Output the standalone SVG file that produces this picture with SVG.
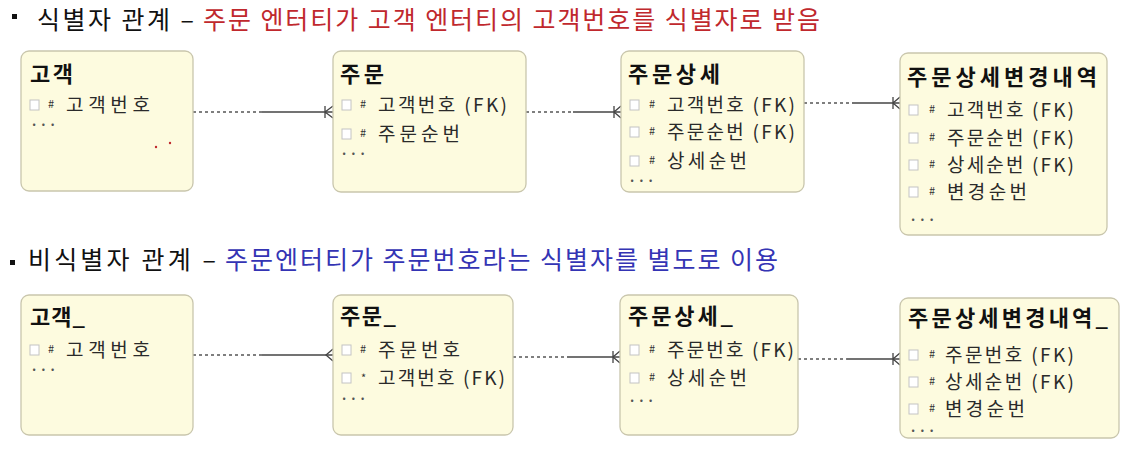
<svg xmlns="http://www.w3.org/2000/svg" width="1148" height="452" viewBox="0 0 1148 452">
<style>
text{font-family:"Noto Sans CJK KR","Noto Sans",sans-serif}
.box{fill:#fdfbdf;stroke:#c9c6ad;stroke-width:1.3}
.ttl{font-size:22px;font-weight:bold;fill:#111}
.row{font-size:19px;fill:#2a2a2a}
.hash{font-size:11px;fill:#333}
.cb{fill:#fff;stroke:#c4c4c4;stroke-width:1}
.dots{font-size:13px;font-weight:bold;fill:#555;letter-spacing:5px}
.head{font-size:25px;fill:#111}
.dash{stroke:#555;stroke-width:1.3;stroke-dasharray:3 3;fill:none}
.solid{stroke:#444;stroke-width:1.3;fill:none}
</style>

<g id="heading1">
<rect x="12" y="14" width="5" height="5" fill="#111"/>
<text class="head" x="37" y="29" textLength="157" lengthAdjust="spacing">식별자 관계 –</text>
<text class="head" x="203" y="29" style="fill:#c0282d" textLength="617" lengthAdjust="spacing">주문 엔터티가 고객 엔터티의 고객번호를 식별자로 받음</text>
</g>
<g id="heading2">
<rect x="10" y="260" width="5" height="5" fill="#111"/>
<text class="head" x="28" y="269" textLength="188" lengthAdjust="spacing">비식별자 관계 –</text>
<text class="head" x="225" y="269" style="fill:#3434b4" textLength="553" lengthAdjust="spacing">주문엔터티가 주문번호라는 식별자를 별도로 이용</text>
</g>

<g id="connectors">
<line class="dash" x1="193" y1="112" x2="262" y2="112"/>
<line class="solid" x1="262" y1="112" x2="333" y2="112"/>
<path class="solid" d="M325 106V118M325 112L333 106M325 112L333 118"/>

<line class="dash" x1="526" y1="112" x2="573" y2="112"/>
<line class="solid" x1="573" y1="112" x2="621" y2="112"/>
<path class="solid" d="M614 106V118M614 112L621 106M614 112L621 118"/>

<line class="dash" x1="804" y1="103" x2="852" y2="103"/>
<line class="solid" x1="852" y1="103" x2="900" y2="103"/>
<path class="solid" d="M893 97V109M893 103L900 97M893 103L900 109"/>

<line class="dash" x1="193" y1="355" x2="262" y2="355"/>
<line class="solid" x1="262" y1="355" x2="333" y2="355"/>
<path class="solid" d="M333 349L326 355L333 361"/>

<line class="dash" x1="513" y1="357" x2="567" y2="357"/>
<line class="solid" x1="567" y1="357" x2="620" y2="357"/>
<path class="solid" d="M613 351V363M613 357L620 351M613 357L620 363"/>

<line class="dash" x1="798" y1="359" x2="847" y2="359"/>
<line class="solid" x1="847" y1="359" x2="900" y2="359"/>
<path class="solid" d="M893 353V365M893 359L900 353M893 359L900 365"/>
</g>

<g id="customer">
<rect class="box" x="21" y="51" width="172" height="140" rx="8"/>
<text class="ttl" x="30" y="82" textLength="43" lengthAdjust="spacing">고객</text>
<rect class="cb" x="30" y="100" width="9" height="10"/>
<text class="hash" x="48" y="108">#</text>
<text class="row" x="66" y="112" textLength="84" lengthAdjust="spacing">고객번호</text>
<text class="dots" x="32" y="126">...</text>
<circle cx="156" cy="147" r="1.2" fill="#c0282d"/>
<circle cx="170" cy="143" r="1.2" fill="#c0282d"/>
</g>

<g id="order">
<rect class="box" x="333" y="51" width="193" height="141" rx="8"/>
<text class="ttl" x="340" y="82" textLength="44" lengthAdjust="spacing">주문</text>
<rect class="cb" x="342" y="100" width="9" height="10"/>
<text class="hash" x="360" y="108">#</text>
<text class="row" x="378" y="112" textLength="129" lengthAdjust="spacing">고객번호 (FK)</text>
<rect class="cb" x="342" y="129" width="9" height="10"/>
<text class="hash" x="360" y="137">#</text>
<text class="row" x="378" y="141" textLength="82" lengthAdjust="spacing">주문순번</text>
<text class="dots" x="342" y="155">...</text>
</g>

<g id="orderDetail">
<rect class="box" x="621" y="51" width="183" height="141" rx="8"/>
<text class="ttl" x="628" y="82" textLength="92" lengthAdjust="spacing">주문상세</text>
<rect class="cb" x="630" y="100" width="9" height="10"/>
<text class="hash" x="649" y="108">#</text>
<text class="row" x="667" y="112" textLength="128" lengthAdjust="spacing">고객번호 (FK)</text>
<rect class="cb" x="630" y="127" width="9" height="10"/>
<text class="hash" x="649" y="135">#</text>
<text class="row" x="667" y="139" textLength="128" lengthAdjust="spacing">주문순번 (FK)</text>
<rect class="cb" x="630" y="156" width="9" height="10"/>
<text class="hash" x="649" y="164">#</text>
<text class="row" x="667" y="168" textLength="80" lengthAdjust="spacing">상세순번</text>
<text class="dots" x="630" y="182">...</text>
</g>

<g id="orderDetailHistory">
<rect class="box" x="900" y="53" width="207" height="182" rx="8"/>
<text class="ttl" x="907" y="85" textLength="190" lengthAdjust="spacing">주문상세변경내역</text>
<rect class="cb" x="909" y="105" width="9" height="10"/>
<text class="hash" x="929" y="113">#</text>
<text class="row" x="947" y="117" textLength="127" lengthAdjust="spacing">고객번호 (FK)</text>
<rect class="cb" x="909" y="133" width="9" height="10"/>
<text class="hash" x="929" y="141">#</text>
<text class="row" x="947" y="145" textLength="127" lengthAdjust="spacing">주문순번 (FK)</text>
<rect class="cb" x="909" y="160" width="9" height="10"/>
<text class="hash" x="929" y="168">#</text>
<text class="row" x="947" y="172" textLength="127" lengthAdjust="spacing">상세순번 (FK)</text>
<rect class="cb" x="909" y="187" width="9" height="10"/>
<text class="hash" x="929" y="195">#</text>
<text class="row" x="947" y="199" textLength="80" lengthAdjust="spacing">변경순번</text>
<text class="dots" x="911" y="221">...</text>
</g>

<g id="customer_">
<rect class="box" x="21" y="295" width="172" height="140" rx="8"/>
<text class="ttl" x="30" y="325" textLength="55" lengthAdjust="spacing">고객_</text>
<rect class="cb" x="30" y="345" width="9" height="10"/>
<text class="hash" x="48" y="353">#</text>
<text class="row" x="66" y="357" textLength="84" lengthAdjust="spacing">고객번호</text>
<text class="dots" x="32" y="371">...</text>
</g>

<g id="order_">
<rect class="box" x="333" y="295" width="180" height="140" rx="8"/>
<text class="ttl" x="340" y="324" textLength="56" lengthAdjust="spacing">주문_</text>
<rect class="cb" x="342" y="345" width="9" height="10"/>
<text class="hash" x="360" y="353">#</text>
<text class="row" x="378" y="357" textLength="82" lengthAdjust="spacing">주문번호</text>
<rect class="cb" x="342" y="373" width="9" height="10"/>
<text class="hash" x="361" y="382">*</text>
<text class="row" x="378" y="385" textLength="127" lengthAdjust="spacing">고객번호 (FK)</text>
<text class="dots" x="342" y="400">...</text>
</g>

<g id="orderDetail_">
<rect class="box" x="620" y="295" width="178" height="140" rx="8"/>
<text class="ttl" x="628" y="324" textLength="105" lengthAdjust="spacing">주문상세_</text>
<rect class="cb" x="630" y="345" width="9" height="10"/>
<text class="hash" x="649" y="353">#</text>
<text class="row" x="667" y="357" textLength="127" lengthAdjust="spacing">주문번호 (FK)</text>
<rect class="cb" x="630" y="373" width="9" height="10"/>
<text class="hash" x="649" y="381">#</text>
<text class="row" x="667" y="385" textLength="80" lengthAdjust="spacing">상세순번</text>
<text class="dots" x="630" y="402">...</text>
</g>

<g id="orderDetailHistory_">
<rect class="box" x="900" y="298" width="219" height="140" rx="8"/>
<text class="ttl" x="908" y="326" textLength="200" lengthAdjust="spacing">주문상세변경내역_</text>
<rect class="cb" x="909" y="350" width="9" height="10"/>
<text class="hash" x="929" y="358">#</text>
<text class="row" x="945" y="362" textLength="129" lengthAdjust="spacing">주문번호 (FK)</text>
<rect class="cb" x="909" y="377" width="9" height="10"/>
<text class="hash" x="929" y="385">#</text>
<text class="row" x="945" y="389" textLength="129" lengthAdjust="spacing">상세순번 (FK)</text>
<rect class="cb" x="909" y="404" width="9" height="10"/>
<text class="hash" x="929" y="412">#</text>
<text class="row" x="945" y="416" textLength="80" lengthAdjust="spacing">변경순번</text>
<text class="dots" x="911" y="432">...</text>
</g>
</svg>
